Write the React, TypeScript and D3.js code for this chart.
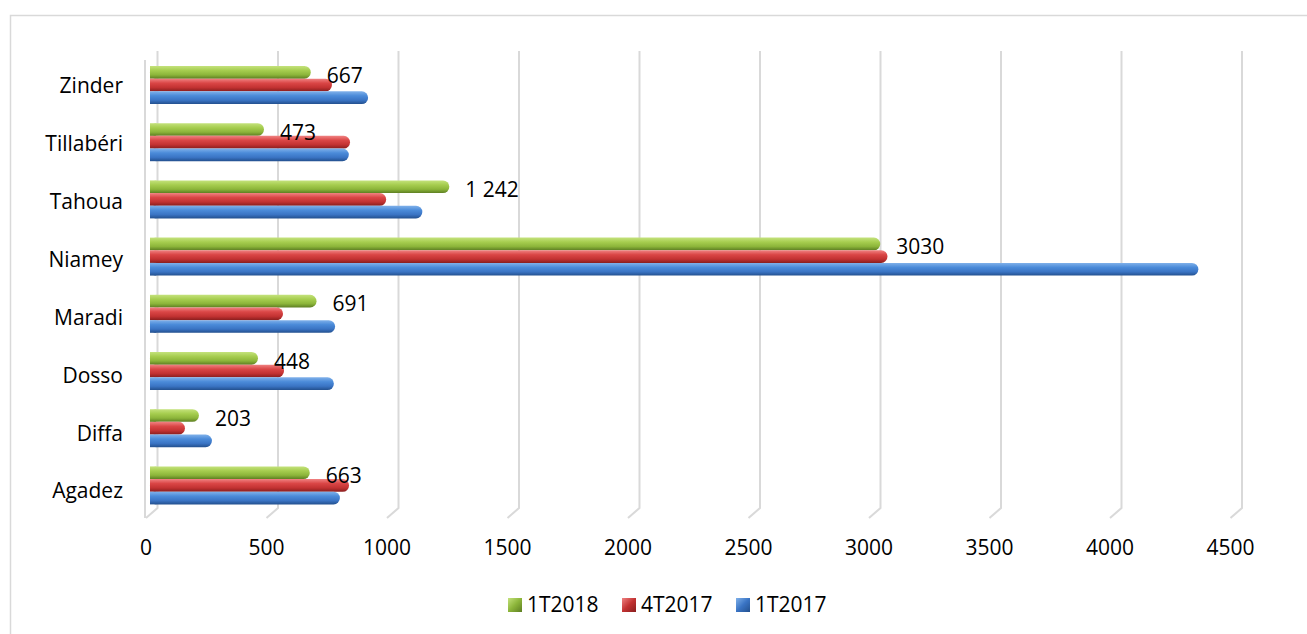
import React from 'react';
import * as d3 from 'd3';

const categories = ['Zinder', 'Tillabéri', 'Tahoua', 'Niamey', 'Maradi', 'Dosso', 'Diffa', 'Agadez'];
const seriesNames = ['1T2018', '4T2017', '1T2017'];
const values1T2018 = [667, 473, 1242, 3030, 691, 448, 203, 663];
const values4T2017 = [755, 830, 980, 3060, 552, 556, 145, 826];
const values1T2017 = [905, 825, 1130, 4350, 768, 763, 257, 788];
const dataLabels = ['667', '473', '1 242', '3030', '691', '448', '203', '663'];
const tickValues = [0, 500, 1000, 1500, 2000, 2500, 3000, 3500, 4000, 4500];

const W = 1307;
const H = 634;
const FONT = "'Open Sans', sans-serif";

const gradients: {[k: string]: string[]} = {
  '1T2018': ['#c4e27c', '#a6cd4f', '#8cb53a', '#5d7e22'],
  '4T2017': ['#f08282', '#da4646', '#c23232', '#891e1e'],
  '1T2017': ['#80b1ea', '#4b8bd9', '#3a74c4', '#23508e'],
};

function App() {
  const seriesValues = [values1T2018, values4T2017, values1T2017];

  // value scales: bars sit between the back wall and the front edge
  const xBar = d3.scaleLinear().domain([0, 4500]).range([150, 1234.5]);
  const xBack = d3.scaleLinear().domain([0, 4500]).range([157.5, 1242]);
  const xFront = d3.scaleLinear().domain([0, 4500]).range([146, 1230.5]);

  const y = d3.scaleBand<string>()
    .domain(categories)
    .range([56.4, 514])
    .paddingInner(0.336)
    .paddingOuter(0.168);
  const ySeries = d3.scaleBand<string>()
    .domain(seriesNames)
    .range([0, y.bandwidth()])
    .padding(0);
  // category labels sit on the front plane, a little lower than the bars
  const yLabel = d3.scaleBand<string>()
    .domain(categories)
    .range([57, 520]);

  const wallTop = 51;
  const wallBottom = 508;
  const floorFront = 518;

  const legend = d3.scaleOrdinal<string, number>()
    .domain(seriesNames)
    .range([508, 622, 736]);

  return (
    <svg width={W} height={H} style={{position: 'absolute', left: 0, top: 0, background: '#fff'}}
         fontFamily={FONT}>
      <defs>
        {seriesNames.map(s => (
          <linearGradient key={s} id={'g' + s} x1="0" y1="0" x2="0" y2="1">
            <stop offset="0%" stopColor={gradients[s][0]}/>
            <stop offset="35%" stopColor={gradients[s][1]}/>
            <stop offset="70%" stopColor={gradients[s][2]}/>
            <stop offset="100%" stopColor={gradients[s][3]}/>
          </linearGradient>
        ))}
        {seriesNames.map(s => (
          <linearGradient key={s} id={'l' + s} x1="0" y1="0" x2="1" y2="1">
            <stop offset="0%" stopColor={gradients[s][0]}/>
            <stop offset="50%" stopColor={gradients[s][2]}/>
            <stop offset="100%" stopColor={gradients[s][3]}/>
          </linearGradient>
        ))}
      </defs>

      <rect x={10.5} y={15.5} width={W + 20} height={H + 20} fill="#fff" stroke="#d9d9d9" strokeWidth={1.5}/>

      {/* side wall edge */}
      <line x1={xFront(0) - 1} x2={xFront(0) - 1} y1={wallTop + 9} y2={floorFront} stroke="#d9d9d9" strokeWidth={2}/>

      {/* gridlines: back wall plus floor */}
      {tickValues.map(t => (
        <path key={t}
              d={`M${xBack(t)},${wallTop} L${xBack(t)},${wallBottom} L${xFront(t)},${floorFront}`}
              fill="none" stroke="#d9d9d9" strokeWidth={2}/>
      ))}

      {/* bars */}
      {categories.map((c, i) => (
        <g key={c}>
          {seriesNames.map((s, j) => {
            const v = seriesValues[j][i];
            const by = (y(c) as number) + (ySeries(s) as number);
            const h = ySeries.bandwidth();
            const x0 = xBar(0);
            const x1 = xBar(v);
            const r = h / 2;
            return (
              <g key={s}>
                <rect x={x0} y={by} width={x1 - x0} height={h} rx={r} ry={r} fill={`url(#g${s})`}/>
                <rect x={x0} y={by} width={Math.min(r, x1 - x0)} height={h} fill={`url(#g${s})`}/>
              </g>
            );
          })}
        </g>
      ))}

      {/* data labels for 1T2018 */}
      {categories.map((c, i) => {
        const by = (y(c) as number) + (ySeries('1T2018') as number) + ySeries.bandwidth() / 2;
        return (
          <text key={c} x={xBar(values1T2018[i]) + 16} y={by + 3} dy="0.35em" fontSize={21} fill="#000">
            {dataLabels[i]}
          </text>
        );
      })}

      {/* category labels */}
      {categories.map(c => (
        <text key={c} x={123} y={(yLabel(c) as number) + yLabel.bandwidth() / 2} dy="0.35em"
              textAnchor="end" fontSize={21} fill="#000">{c}</text>
      ))}

      {/* value tick labels */}
      {tickValues.map(t => (
        <text key={t} x={xFront(t)} y={548} dy="0.35em" textAnchor="middle" fontSize={21} fill="#000">{t}</text>
      ))}

      {/* legend */}
      {seriesNames.map(s => (
        <g key={s} transform={`translate(${legend(s)},598)`}>
          <rect x={0} y={0} width={14} height={14} fill={`url(#l${s})`}/>
          <text x={19} y={7} dy="0.35em" fontSize={21} fill="#000">{s}</text>
        </g>
      ))}
    </svg>
  );
}

export default App;
